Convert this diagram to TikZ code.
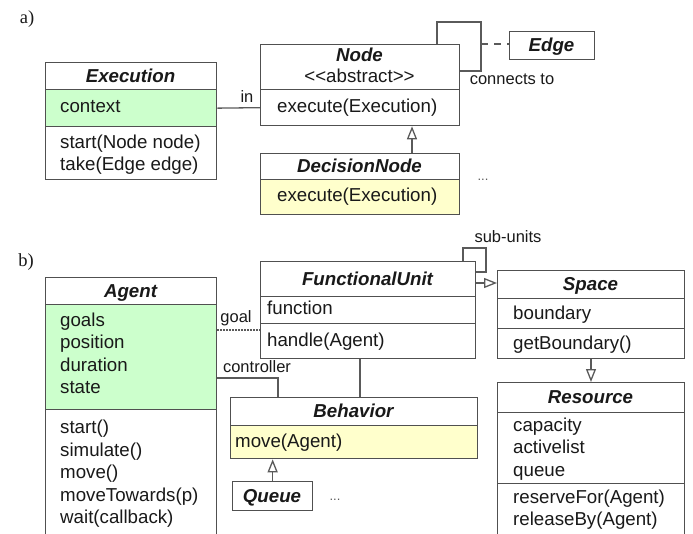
\documentclass[tikz,border=0pt]{standalone}
\usepackage{fontspec}
\setmainfont{Liberation Sans}
\newfontfamily\serifface{Liberation Serif}
\usetikzlibrary{arrows.meta}
\definecolor{bc}{RGB}{80,80,80}
\definecolor{lc}{RGB}{90,90,90}
\definecolor{tc}{RGB}{25,25,25}
\definecolor{gfill}{RGB}{204,255,204}
\definecolor{yfill}{RGB}{255,255,204}
\newcommand\mainf{\fontsize{18.7}{22.5}\selectfont}
\newcommand\titf{\fontsize{18.7}{22.5}\selectfont\bfseries\itshape}
\newcommand\labf{\fontsize{16.5}{19}\selectfont}
\tikzset{
  cmp/.style={draw=bc, line width=1.3pt, anchor=north west, inner sep=0pt, fill=white},
  ttl/.style={inner sep=0pt, font=\titf, text=tc, text height=13pt, text depth=0pt},
  txt/.style={anchor=west, inner sep=0pt, font=\mainf, text=tc, text height=13pt, text depth=4pt},
  mtxt/.style={anchor=north west, inner sep=0pt, font=\mainf, text=tc, align=left},
  lab/.style={inner sep=0pt, font=\labf, text=tc},
  conn/.style={draw=lc, line width=1.3pt},
  gen/.style={-{Triangle[open,length=13pt,width=10pt]}},
  dots/.style={inner sep=0pt, font=\fontsize{13}{15}\selectfont, text=lc}
}
\begin{document}
\begin{tikzpicture}[x=1pt,y=-1pt]
\useasboundingbox (0,0) rectangle (693,533);
\clip (0,0) rectangle (693,533);

% ---------- a) ----------
\node[inner sep=0pt, font=\serifface\fontsize{18.5}{22}\selectfont, text=tc] (la) at (27,19) {a)};

% Execution
\node[cmp, minimum width=171pt, minimum height=27pt] (exT) at (45,62) {};
\node[cmp, fill=gfill, minimum width=171pt, minimum height=37pt] (exA) at (45,89) {};
\node[cmp, minimum width=171pt, minimum height=53pt] (exM) at (45,126) {};
\node[ttl] (exTt) at (130.5,75.5) {Execution};
\node[txt] (exAt) at (60,108) {context};
\node[mtxt] (exMt) at (60,134.5) {start(Node node)\\take(Edge edge)};

% Node
\node[cmp, minimum width=199pt, minimum height=45pt] (ndT) at (260,44) {};
\node[cmp, minimum width=199pt, minimum height=36pt] (ndM) at (260,89) {};
\node[ttl] (ndTt) at (359.5,55) {Node};
\node[txt, anchor=center] (ndSt) at (359.5,78) {<\kern0pt<abstract>\kern0pt>};
\node[txt] (ndMt) at (277,108) {execute(Execution)};

% DecisionNode
\node[cmp, minimum width=199pt, minimum height=26pt] (dnT) at (260,153) {};
\node[cmp, fill=yfill, minimum width=199pt, minimum height=35pt] (dnM) at (260,179) {};
\node[ttl] (dnTt) at (359.5,166) {DecisionNode};
\node[txt] (dnMt) at (277,197) {execute(Execution)};

% Edge
\node[cmp, minimum width=85pt, minimum height=28pt] (edge) at (509,31) {};
\node[ttl] (edgeT) at (551.5,45) {Edge};

% connectors a)
\draw[conn] (exA.east) -- (ndM.west);
\node[lab] (lin) at (247,97) {in};
\coordinate (lp1) at (481,22);
\coordinate (lp2) at (481,71);
\draw[conn] ([xshift=177pt]ndT.north west) |- (lp1) -- (lp2) -- (lp2 -| ndT.east);
\coordinate (lp3) at (481,44);
\draw[conn, dash pattern=on 7pt off 6pt] (lp3) -- (lp3 -| edge.west);
\node[lab] (lcon) at (512,79) {connects to};
\draw[conn, gen] ([xshift=152pt]dnT.north west) -- ([xshift=152pt]ndM.south west);
\node[dots] (d1) at (483,180) {...};

% ---------- b) ----------
\node[inner sep=0pt, font=\serifface\fontsize{18.5}{22}\selectfont, text=tc] (lb) at (26,262) {b)};

% Agent
\node[cmp, minimum width=171pt, minimum height=27pt] (agT) at (45,277) {};
\node[cmp, fill=gfill, minimum width=171pt, minimum height=105pt] (agA) at (45,304) {};
\node[cmp, minimum width=171pt, minimum height=140pt] (agM) at (45,409) {};
\node[ttl] (agTt) at (130.5,290.5) {Agent};
\node[mtxt] (agAt) at (60,312.5) {goals\\position\\duration\\state};
\node[mtxt] (agMt) at (60,420) {start()\\simulate()\\move()\\moveTowards(p)\\wait(callback)};

% FunctionalUnit
\node[cmp, minimum width=215pt, minimum height=35pt] (fuT) at (260,261) {};
\node[cmp, minimum width=215pt, minimum height=27pt] (fuA) at (260,296) {};
\node[cmp, minimum width=215pt, minimum height=35pt] (fuM) at (260,323) {};
\node[ttl] (fuTt) at (367.5,278.5) {FunctionalUnit};
\node[txt] (fuAt) at (267,310) {function};
\node[txt] (fuMt) at (267,341.5) {handle(Agent)};

% Behavior
\node[cmp, minimum width=247pt, minimum height=28pt] (beT) at (230,397) {};
\node[cmp, fill=yfill, minimum width=247pt, minimum height=33pt] (beM) at (230,425) {};
\node[ttl] (beTt) at (353.5,411) {Behavior};
\node[txt] (beMt) at (235,442.5) {move(Agent)};

% Queue
\node[cmp, minimum width=80pt, minimum height=29pt] (qu) at (232,481) {};
\node[ttl] (quT) at (272,495.5) {Queue};
\node[dots] (d2) at (335,500) {...};

% Space
\node[cmp, minimum width=187pt, minimum height=28pt] (spT) at (497,270) {};
\node[cmp, minimum width=187pt, minimum height=30pt] (spA) at (497,298) {};
\node[cmp, minimum width=187pt, minimum height=30pt] (spM) at (497,328) {};
\node[ttl] (spTt) at (590.5,284) {Space};
\node[txt] (spAt) at (513,315) {boundary};
\node[txt] (spMt) at (513,345) {getBoundary()};

% Resource
\node[cmp, minimum width=187pt, minimum height=30pt] (reT) at (497,382) {};
\node[cmp, minimum width=187pt, minimum height=71pt] (reA) at (497,412) {};
\node[cmp, minimum width=187pt, minimum height=70pt] (reM) at (497,483) {};
\node[ttl] (reTt) at (590.5,397) {Resource};
\node[mtxt] (reAt) at (513,417.5) {capacity\\activelist\\queue};
\node[mtxt] (reMt) at (513,489.5) {reserveFor(Agent)\\releaseBy(Agent)};

% connectors b)
\coordinate (g1) at ([yshift=-26pt]agA.north east);
\draw[conn, dash pattern=on 1.5pt off 1.5pt] (g1) -- (g1 -| fuM.west);
\node[lab] (lgoal) at (236,318) {goal};
\coordinate (c1) at ([yshift=-74pt]agA.north east);
\draw[conn] (c1) -| ([xshift=48pt]beT.north west);
\node[lab] (lctrl) at (257,367) {controller};
\draw[conn] ([xshift=100pt]fuM.south west) -- ([xshift=130pt]beT.north west);
\coordinate (su1) at (486,248);
\coordinate (su2) at (486,272);
\draw[conn] ([xshift=203pt]fuT.north west) |- (su1) -- (su2) -- (su2 -| fuT.east);
\node[lab] (lsub) at (508,237) {sub-units};
\coordinate (f1) at ([yshift=-22pt]fuT.north east);
\draw[conn, gen] (f1) -- (f1 -| spT.west);
\draw[conn, gen] ([xshift=94pt]spM.south west) -- ([xshift=94pt]reT.north west);
\draw[conn, gen] (qu.north) -- (qu.north |- beM.south);
\end{tikzpicture}
\end{document}
